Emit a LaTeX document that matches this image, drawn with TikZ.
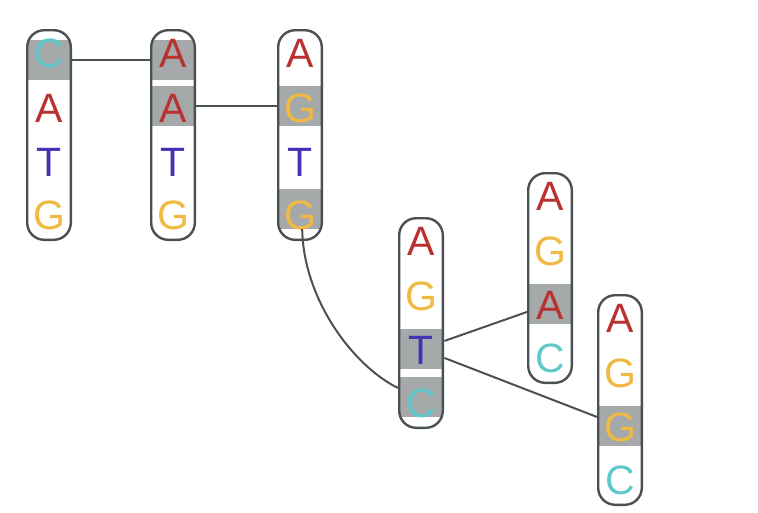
\documentclass[tikz,border=0pt]{standalone}
\usepackage{fontspec}
\setmainfont{Liberation Sans}
\definecolor{letA}{RGB}{183,50,48}
\definecolor{letG}{RGB}{240,185,66}
\definecolor{letT}{RGB}{66,50,180}
\definecolor{letC}{RGB}{96,200,202}
\definecolor{cellg}{RGB}{166,169,169}
\definecolor{bordc}{RGB}{74,81,85}
\tikzset{
  colbox/.style={draw=bordc, line width=2.4pt, rounded corners=17pt, minimum width=43.6pt, minimum height=209.6pt, inner sep=0pt},
  cell/.style={fill=cellg, minimum width=46pt, minimum height=39.5pt, inner sep=0pt, anchor=north west},
  letter/.style={font=\fontsize{41}{41}\selectfont, anchor=base, inner sep=0pt},
  link/.style={draw=bordc, line width=2pt}
}
\newcommand\dnacol[5]{%
  \begin{scope}
    \clip[rounded corners=17pt] (#2+1.2,#3+1.2) rectangle (#2+44.8,#3+210.8);
    \foreach \k in {#5} {
      \pgfmathsetmacro\off{{11,57,112,160}[\k-1]}
      \node[cell] (#1r\k) at (#2,#3+\off) {};
    }
  \end{scope}
  \node[colbox] (#1) at (#2+23,#3+106) {};
  \foreach \l [count=\k] in {#4} {
    \pgfmathsetmacro\bl{{38,93,147,200}[\k-1]}
    \node[letter, text=let\l] (#1l\k) at (#2+23,#3+\bl) {\l};
  }
}
\begin{document}
\begin{tikzpicture}[x=1pt,y=-1pt]
\useasboundingbox (0,0) rectangle (758,512);
\dnacol{c1}{26}{29}{C,A,T,G}{1}
\dnacol{c2}{150}{29}{A,A,T,G}{1,2}
\dnacol{c3}{277}{29}{A,G,T,G}{2,4}
\dnacol{c4}{398}{217}{A,G,T,C}{3,4}
\dnacol{c5}{527}{172}{A,G,A,C}{3}
\dnacol{c6}{597}{294}{A,G,G,C}{3}
\draw[link] (c1r1.east) -- (c2r1.west);
\draw[link] (c2r2.east) -- (c3r2.west);
\draw[link] ([xshift=2pt]c3r4.south) .. controls +(1,70) and +(-45,-22) .. ([yshift=9pt]c4r4.west);
\draw[link] ([yshift=8pt]c4r3.east) -- ([yshift=-8pt]c5r3.west);
\draw[link] ([yshift=-9pt]c4r3.east) -- ([yshift=9pt]c6r3.west);
\end{tikzpicture}
\end{document}
